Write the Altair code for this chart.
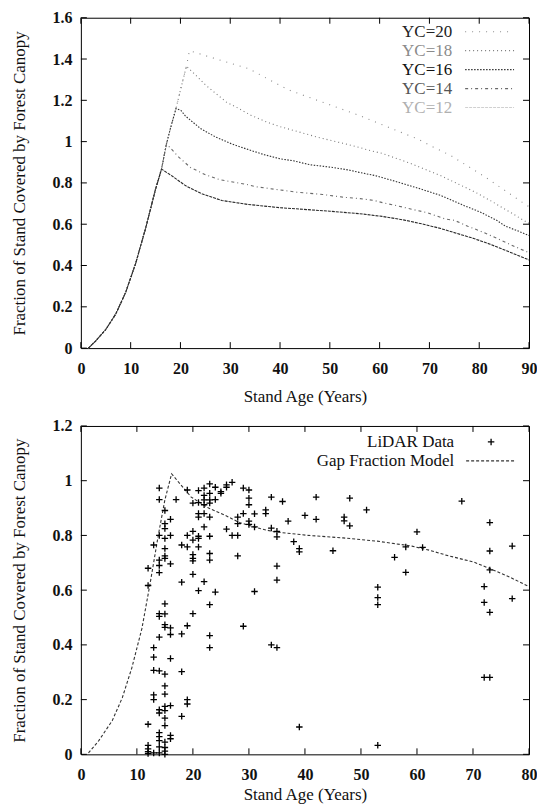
import altair as alt
import pandas as pd

# ---------------- Top panel: yield-class canopy curves ----------------
rise_age = [1.5, 3, 5, 7, 9, 11, 13, 15, 16.2, 17.2, 18, 19.1, 20, 21.2, 21.8]
rise_val = [0.0, 0.035, 0.09, 0.165, 0.27, 0.41, 0.58, 0.77, 0.867, 0.99, 1.065, 1.16, 1.25, 1.365, 1.44]

yc_names = ["YC=20", "YC=18", "YC=16", "YC=14", "YC=12"]
yc_peak = [21.8, 21.2, 19.1, 17.2, 16.2]

yc20_age = [33.7, 41.6, 43, 54.4, 56.2, 67.7, 70.5, 74.4, 81.3, 88.9, 90]
yc20_val = [1.353, 1.252, 1.239, 1.14, 1.124, 1.012, 0.977, 0.931, 0.827, 0.702, 0.685]

yc18_age = [23.7, 25, 27, 29.3, 31.2, 34.2, 37.3, 40.1, 47.3, 50, 53.3, 55.9, 57.7, 60.5,
            65.7, 72.3, 79.2, 82.2, 86.5, 88.9, 90]
yc18_val = [1.307, 1.275, 1.235, 1.19, 1.167, 1.127, 1.095, 1.072, 1.023, 1.007, 0.988, 0.972,
            0.959, 0.943, 0.899, 0.835, 0.755, 0.715, 0.654, 0.619, 0.605]

yc16_age = [20.1, 21, 22.2, 24, 27, 30.2, 33.9, 36.8, 40, 42.7, 46, 50.6, 53.9, 55.9, 59.2,
            63.1, 68.2, 72.3, 76.9, 80.2, 83.5, 85.3, 87.4, 90]
yc16_val = [1.151, 1.124, 1.10, 1.064, 1.023, 0.99, 0.959, 0.937, 0.917, 0.907, 0.888, 0.875,
            0.862, 0.851, 0.835, 0.808, 0.771, 0.739, 0.691, 0.659, 0.619, 0.59, 0.571, 0.545]

yc14_age = [19.6, 22, 25, 28, 33.2, 35, 40, 43.4, 48.6, 52.6, 56.1, 58.9, 61, 63.4, 66.9,
            69.5, 73.2, 75, 77.7, 80.1, 82.4, 87.3, 90]
yc14_val = [0.926, 0.875, 0.84, 0.815, 0.793, 0.782, 0.766, 0.755, 0.744, 0.731, 0.724, 0.715,
            0.702, 0.69, 0.67, 0.656, 0.625, 0.619, 0.59, 0.568, 0.544, 0.49, 0.462]

yc12_age = [18.4, 21, 24.3, 28.3, 33.5, 40, 50, 56, 60.5, 65, 69, 72.3, 75.6, 78.9, 82.2, 85.5, 90]
yc12_val = [0.832, 0.787, 0.747, 0.715, 0.696, 0.68, 0.663, 0.651, 0.638, 0.62, 0.599, 0.579,
            0.555, 0.531, 0.503, 0.471, 0.427]

x_ticks_top = [0, 10, 20, 30, 40, 50, 60, 70, 80, 90]
y_ticks_top = [0, 0.2, 0.4, 0.6, 0.8, 1.0, 1.2, 1.4, 1.6]

# ---------------- Bottom panel: LiDAR data and model ----------------
lidar_age = [
    12, 12, 12, 12, 12, 12, 12,
    13, 13, 13, 13, 13, 13, 13,
    14, 14, 14, 14, 14, 14, 14, 14, 14, 14, 14, 14, 14, 14, 14, 14, 14,
    15, 15, 15, 15, 15, 15, 15, 15, 15, 15, 15, 15, 15, 15, 15, 15, 15, 15, 15, 15, 15, 15,
    16, 16, 16, 16, 16, 16, 16, 16, 16,
    17,
    18, 18, 18, 18, 18,
    19, 19, 19, 19, 19, 19,
    20, 20, 20, 20, 20, 20, 20, 20,
    21, 21, 21, 21, 21, 21, 21, 21,
    22, 22, 22, 22, 22, 22, 22,
    23, 23, 23, 23, 23, 23, 23, 23, 23, 23, 23,
    24, 24, 24,
    25, 25,
    26, 26, 26,
    27, 27,
    28, 28, 28, 28,
    29, 29, 29,
    30, 30, 30, 30, 30,
    31, 31, 31,
    33, 33,
    34, 34, 34,
    35, 35, 35, 35, 35,
    36, 37, 38,
    39, 39, 39,
    40,
    42, 42,
    45,
    47, 47,
    48, 48,
    51,
    53, 53, 53, 53,
    56,
    58, 58,
    60, 61, 68,
    72, 72, 72,
    73, 73, 73, 73, 73,
    77, 77,
]
lidar_frac = [
    0.033, 0.02, 0.01, 0.003, 0.11, 0.617, 0.68,
    0.765, 0.39, 0.355, 0.307, 0.217, 0.20, 0.005,
    0.973, 0.931, 0.80, 0.71, 0.69, 0.664, 0.514, 0.504, 0.428, 0.305, 0.163, 0.151, 0.079,
    0.065, 0.05, 0.027, 0.005,
    0.891, 0.843, 0.825, 0.789, 0.752, 0.725, 0.716, 0.55, 0.513, 0.474, 0.464, 0.293, 0.25,
    0.22, 0.175, 0.16, 0.132, 0.105, 0.045, 0.025, 0.012, 0.0,
    0.859, 0.80, 0.696, 0.462, 0.438, 0.35, 0.178, 0.069, 0.057,
    0.931,
    0.765, 0.629, 0.44, 0.302, 0.139,
    0.966, 0.80, 0.758, 0.47, 0.20, 0.184,
    0.918, 0.815, 0.783, 0.73, 0.716, 0.707, 0.658, 0.514,
    0.964, 0.92, 0.88, 0.867, 0.797, 0.789, 0.758, 0.598,
    0.973, 0.946, 0.93, 0.912, 0.88, 0.831, 0.631,
    0.988, 0.954, 0.93, 0.918, 0.867, 0.797, 0.734, 0.71, 0.547, 0.434, 0.39,
    0.976, 0.931, 0.593,
    0.96, 0.954,
    0.985, 0.976, 0.823,
    0.994, 0.80,
    0.867, 0.843, 0.80, 0.725,
    0.973, 0.88, 0.468,
    0.966, 0.936, 0.912, 0.852, 0.84,
    0.879, 0.831, 0.595,
    0.893, 0.88,
    0.94, 0.827, 0.40,
    0.815, 0.795, 0.688, 0.637, 0.39,
    0.924, 0.852, 0.777,
    0.752, 0.74, 0.10,
    0.873,
    0.94, 0.859,
    0.744,
    0.867, 0.853,
    0.936, 0.835,
    0.893,
    0.611, 0.573, 0.547, 0.033,
    0.72,
    0.758, 0.665,
    0.813, 0.756, 0.925,
    0.613, 0.555, 0.281,
    0.847, 0.743, 0.674, 0.519, 0.281,
    0.761, 0.569,
]
assert len(lidar_age) == len(lidar_frac)

model_age = [1.36, 3.2, 5.6, 7.4, 9.1, 10.9, 12.4, 13.8, 15, 16.2, 19.7, 22.8, 25.8, 28.3, 32,
             34.5, 37.5, 40.6, 46.8, 52.9, 59.1, 62.2, 65.2, 70.2, 73.2, 76.3, 80]
model_val = [0.005, 0.05, 0.123, 0.207, 0.316, 0.46, 0.629, 0.798, 0.93, 1.025, 0.94, 0.90,
             0.873, 0.847, 0.825, 0.813, 0.807, 0.80, 0.791, 0.779, 0.761, 0.746, 0.728, 0.702,
             0.677, 0.65, 0.613]

x_ticks_bot = [0, 10, 20, 30, 40, 50, 60, 70, 80]
y_ticks_bot = [0, 0.2, 0.4, 0.6, 0.8, 1.0, 1.2]

# ---------------- styles ----------------
FONT = "Liberation Serif"
W = 449
H_TOP = 331
H_BOT = 329
TICK = 6

yc_color = ["#8a8a8a", "#7a7a7a", "#333333", "#6a6a6a", "#2a2a2a"]
yc_dash = [[1, 6], [1, 3], [1.5, 1.5], [3, 3, 1, 3], [3, 1]]
yc_text_color = ["#222222", "#8a8a8a", "#111111", "#555555", "#b0b0b0"]
yc_leg_color = ["#8a8a8a", "#7a7a7a", "#333333", "#6a6a6a", "#d0d0d0"]

descents = {
    "YC=20": (yc20_age, yc20_val),
    "YC=18": (yc18_age, yc18_val),
    "YC=16": (yc16_age, yc16_val),
    "YC=14": (yc14_age, yc14_val),
    "YC=12": (yc12_age, yc12_val),
}

rows = []
for name, peak in zip(yc_names, yc_peak):
    k = 0
    for a, v in zip(rise_age, rise_val):
        if a <= peak + 1e-9:
            rows.append({"yc": name, "age": a, "frac": v, "k": k})
            k += 1
    da, dv = descents[name]
    for a, v in zip(da, dv):
        rows.append({"yc": name, "age": a, "frac": v, "k": k})
        k += 1
top_df = pd.DataFrame(rows)


def make_axes(xticks, yticks, title_y):
    xaxis = alt.Axis(values=xticks, ticks=False, tickSize=0, domain=False, grid=False,
                     labelFont=FONT, labelFontSize=16, labelFontWeight="bold",
                     labelColor="#111111", labelPadding=12, labelFlush=False,
                     labelOverlap=False, format="d",
                     title="Stand Age (Years)", titleFont=FONT, titleFontSize=17,
                     titleFontWeight="normal", titleColor="#111111",
                     titleY=title_y, titleBaseline="middle")
    yaxis = alt.Axis(values=yticks, ticks=False, tickSize=0, domain=False, grid=False,
                     labelFont=FONT, labelFontSize=16, labelFontWeight="bold",
                     labelColor="#111111", labelPadding=9, labelOverlap=False, format="~g",
                     title="Fraction of Stand Covered by Forest Canopy", titleFont=FONT,
                     titleFontSize=17, titleFontWeight="normal", titleColor="#111111",
                     titleX=-61, titleBaseline="middle")
    return xaxis, yaxis


def tick_layers(xticks, yticks, xs, ys, xaxis, yaxis, h):
    xt = pd.DataFrame({"age": xticks})
    yt = pd.DataFrame({"frac": yticks})
    X = alt.X("age:Q", scale=xs, axis=xaxis)
    Y = alt.Y("frac:Q", scale=ys, axis=yaxis)
    base_x = alt.Chart(xt).mark_rule(color="black", strokeWidth=1)
    base_y = alt.Chart(yt).mark_rule(color="black", strokeWidth=1)
    return [
        base_x.encode(x=X, y=alt.value(h), y2=alt.value(h - TICK)),
        base_x.encode(x=X, y=alt.value(0), y2=alt.value(TICK)),
        base_y.encode(y=Y, x=alt.value(0), x2=alt.value(TICK)),
        base_y.encode(y=Y, x=alt.value(W), x2=alt.value(W - TICK)),
    ]


# ---------------- top chart ----------------
xs_top = alt.Scale(domain=[0, 90], nice=False, zero=False)
ys_top = alt.Scale(domain=[0, 1.6], nice=False)
xa_top, ya_top = make_axes(x_ticks_top, y_ticks_top, 48)

top_layers = []
for i, name in enumerate(yc_names):
    sub = top_df[top_df["yc"] == name]
    top_layers.append(
        alt.Chart(sub).mark_line(color=yc_color[i], strokeDash=yc_dash[i], strokeWidth=1.1)
        .encode(x=alt.X("age:Q", scale=xs_top, axis=xa_top),
                y=alt.Y("frac:Q", scale=ys_top, axis=ya_top),
                order="k:Q")
    )
top_layers += tick_layers(x_ticks_top, y_ticks_top, xs_top, ys_top, xa_top, ya_top, H_TOP)

for i, name in enumerate(yc_names):
    ld = pd.DataFrame({"label": [name]})
    yy = 14 + 19 * i
    top_layers.append(
        alt.Chart(ld).mark_text(font=FONT, fontSize=17, align="right", baseline="middle",
                                color=yc_text_color[i])
        .encode(text="label:N", x=alt.value(372), y=alt.value(yy))
    )
    top_layers.append(
        alt.Chart(ld).mark_rule(color=yc_leg_color[i], strokeDash=yc_dash[i], strokeWidth=1.1)
        .encode(x=alt.value(385), x2=alt.value(434), y=alt.value(yy))
    )

top = alt.layer(*top_layers).properties(width=W, height=H_TOP)

# ---------------- bottom chart ----------------
xs_bot = alt.Scale(domain=[0, 80], nice=False, zero=False)
ys_bot = alt.Scale(domain=[0, 1.2], nice=False)
xa_bot, ya_bot = make_axes(x_ticks_bot, y_ticks_bot, 40)

PLUS = "M-1,0L1,0M0,-1L0,1"
lidar_df = pd.DataFrame({"age": lidar_age, "frac": lidar_frac})
model_df = pd.DataFrame({"age": model_age, "frac": model_val})

bot_layers = [
    alt.Chart(model_df).mark_line(color="#333333", strokeDash=[3, 2], strokeWidth=1.1)
    .encode(x=alt.X("age:Q", scale=xs_bot, axis=xa_bot),
            y=alt.Y("frac:Q", scale=ys_bot, axis=ya_bot)),
    alt.Chart(lidar_df).mark_point(shape=PLUS, size=42, filled=False, color="black",
                                   strokeWidth=1.3, opacity=1)
    .encode(x=alt.X("age:Q", scale=xs_bot, axis=xa_bot),
            y=alt.Y("frac:Q", scale=ys_bot, axis=ya_bot)),
]
bot_layers += tick_layers(x_ticks_bot, y_ticks_bot, xs_bot, ys_bot, xa_bot, ya_bot, H_BOT)

leg1 = pd.DataFrame({"label": ["LiDAR Data"]})
leg2 = pd.DataFrame({"label": ["Gap Fraction Model"]})
bot_layers += [
    alt.Chart(leg1).mark_text(font=FONT, fontSize=17, align="right", baseline="middle",
                              color="#111111")
    .encode(text="label:N", x=alt.value(374), y=alt.value(16)),
    alt.Chart(leg1).mark_point(shape=PLUS, size=42, filled=False, color="black",
                               strokeWidth=1.3, opacity=1)
    .encode(x=alt.value(411), y=alt.value(16)),
    alt.Chart(leg2).mark_text(font=FONT, fontSize=17, align="right", baseline="middle",
                              color="#111111")
    .encode(text="label:N", x=alt.value(374), y=alt.value(35)),
    alt.Chart(leg2).mark_rule(color="#333333", strokeDash=[3, 2], strokeWidth=1.1)
    .encode(x=alt.value(386), x2=alt.value(436), y=alt.value(35)),
]

bot = alt.layer(*bot_layers).properties(width=W, height=H_BOT)

chart = (
    alt.vconcat(top, bot, spacing=12)
    .properties(padding={"left": 2, "top": 0, "right": -1, "bottom": 0}, background="white")
    .configure_axis(labelFont=FONT, titleFont=FONT)
    .configure_view(stroke="black", strokeWidth=1)
)

chart.save("out.html", embed_options={"renderer": "svg", "actions": False})
